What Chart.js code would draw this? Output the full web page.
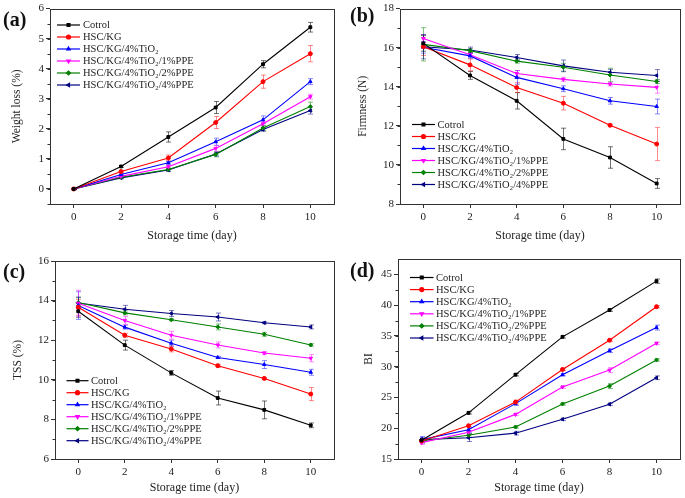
<!DOCTYPE html>
<html>
<head>
<meta charset="utf-8">
<script src="https://cdn.jsdelivr.net/npm/chart.js@4.4.0/dist/chart.umd.min.js"></script>
<style>
  body { margin: 0; background: #fff; }
  #wrap { position: relative; width: 685px; height: 498px; }
  canvas { position: absolute; }
</style>
</head>
<body>
<div id="wrap">
  <canvas id="pa" width="342" height="248" style="left:0;top:0"></canvas>
  <canvas id="pb" width="343" height="248" style="left:342px;top:0"></canvas>
  <canvas id="pc" width="342" height="250" style="left:0;top:248px"></canvas>
  <canvas id="pd" width="343" height="250" style="left:342px;top:248px"></canvas>
</div>
<script>
// storage days and treatments
var days = [0, 2, 4, 6, 8, 10];
var groups = ['Cotrol', 'HSC/KG', 'HSC/KG/4%TiO₂', 'HSC/KG/4%TiO₂/1%PPE', 'HSC/KG/4%TiO₂/2%PPE', 'HSC/KG/4%TiO₂/4%PPE'];

// (a) weight loss (%)
var weightLoss = [
  [0, 0.75, 1.73, 2.71, 4.15, 5.38],
  [0, 0.58, 1.03, 2.21, 3.57, 4.50],
  [0, 0.48, 0.87, 1.57, 2.30, 3.57],
  [0, 0.42, 0.74, 1.35, 2.17, 3.07],
  [0, 0.39, 0.65, 1.15, 2.03, 2.74],
  [0, 0.37, 0.63, 1.16, 1.98, 2.61]
];
var weightLossErr = [
  [0.02, 0.03, 0.17, 0.20, 0.12, 0.16],
  [0.02, 0.04, 0.10, 0.20, 0.22, 0.27],
  [0.02, 0.03, 0.05, 0.12, 0.13, 0.10],
  [0.02, 0.03, 0.05, 0.10, 0.08, 0.08],
  [0.02, 0.03, 0.05, 0.08, 0.08, 0.15],
  [0.02, 0.03, 0.05, 0.06, 0.06, 0.12]
];

// (b) firmness (N)
var firmness = [
  [16.22, 14.58, 13.28, 11.33, 10.38, 9.05],
  [16.05, 15.12, 13.96, 13.16, 12.03, 11.07],
  [16.02, 15.58, 14.48, 13.90, 13.28, 12.99],
  [16.47, 15.64, 14.68, 14.38, 14.14, 13.97],
  [16.17, 15.85, 15.31, 15.00, 14.60, 14.27],
  [16.05, 15.88, 15.50, 15.07, 14.74, 14.58]
];
var firmnessErr = [
  [0.40, 0.20, 0.42, 0.55, 0.55, 0.25],
  [0.45, 0.30, 0.25, 0.35, 0.05, 0.85],
  [0.30, 0.12, 0.35, 0.15, 0.17, 0.38],
  [0.20, 0.10, 0.15, 0.10, 0.10, 0.30],
  [0.85, 0.10, 0.10, 0.20, 0.35, 0.10],
  [0.62, 0.15, 0.15, 0.30, 0.15, 0.30]
];

// (c) TSS (%)
var tss = [
  [13.46, 11.75, 10.35, 9.08, 8.48, 7.70],
  [13.66, 12.25, 11.56, 10.71, 10.07, 9.28],
  [13.75, 12.66, 11.85, 11.13, 10.77, 10.38],
  [13.87, 13.00, 12.25, 11.76, 11.35, 11.09],
  [13.90, 13.38, 13.03, 12.67, 12.30, 11.76],
  [13.88, 13.56, 13.35, 13.17, 12.88, 12.67]
];
var tssErr = [
  [0.30, 0.25, 0.12, 0.35, 0.45, 0.12],
  [0.40, 0.10, 0.15, 0.08, 0.05, 0.33],
  [0.70, 0.10, 0.15, 0.05, 0.20, 0.15],
  [0.65, 0.20, 0.20, 0.15, 0.08, 0.18],
  [0.25, 0.10, 0.05, 0.15, 0.10, 0.07],
  [0.30, 0.20, 0.15, 0.20, 0.05, 0.10]
];

// (d) browning index
var bi = [
  [18.04, 22.50, 28.70, 34.85, 39.20, 43.90],
  [17.93, 20.40, 24.25, 29.55, 34.30, 39.75],
  [18.15, 19.75, 24.00, 28.70, 32.60, 36.35],
  [17.66, 19.35, 22.25, 26.70, 29.45, 33.80],
  [17.93, 18.85, 20.20, 23.95, 26.85, 31.10],
  [18.15, 18.45, 19.20, 21.45, 23.90, 28.20]
];
var biErr = [
  [0.30, 0.20, 0.20, 0.20, 0.20, 0.35],
  [0.30, 0.20, 0.30, 0.20, 0.20, 0.20],
  [0.50, 0.40, 0.30, 0.20, 0.30, 0.40],
  [0.30, 0.30, 0.20, 0.20, 0.40, 0.20],
  [0.30, 0.30, 0.20, 0.20, 0.40, 0.20],
  [0.30, 0.60, 0.30, 0.20, 0.20, 0.30]
];

var colors = ['#000000', '#ff0000', '#0000ff', '#ff00ff', '#008000', '#000080'];
var errColors = ['rgba(0,0,0,0.55)', 'rgba(255,0,0,0.45)', 'rgba(0,0,255,0.45)', 'rgba(255,0,255,0.45)', 'rgba(0,128,0,0.5)', 'rgba(0,0,128,0.5)'];
var markers = ['rect', 'circle', 'triangle', 'triangle', 'rectRot', 'triangle'];
var rotations = [0, 0, 0, 180, 0, -90];

var serif = "'Liberation Serif', 'Times New Roman', serif";
Chart.defaults.font.family = serif;
Chart.defaults.color = '#222';

function drawMarker(ctx, i, x, y) {
  ctx.save();
  ctx.fillStyle = colors[i];
  ctx.strokeStyle = colors[i];
  Chart.helpers.drawPoint(ctx, {pointStyle: markers[i], rotation: rotations[i], radius: 2, borderWidth: 1}, x, y);
  ctx.restore();
}

var extras = {
  id: 'extras',
  beforeDatasetsDraw: function(chart, args, o) {
    var ctx = chart.ctx, xs = chart.scales.x, ys = chart.scales.y;
    ctx.save();
    ctx.lineWidth = 1;
    for (var i = 0; i < o.values.length; i++) {
      ctx.strokeStyle = errColors[i];
      for (var j = 0; j < days.length; j++) {
        var x = Math.round(xs.getPixelForValue(days[j])) + 0.5;
        var y1 = ys.getPixelForValue(o.values[i][j] + o.errors[i][j]);
        var y2 = ys.getPixelForValue(o.values[i][j] - o.errors[i][j]);
        ctx.beginPath();
        ctx.moveTo(x, y1); ctx.lineTo(x, y2);
        ctx.moveTo(x - 2.5, y1); ctx.lineTo(x + 2.5, y1);
        ctx.moveTo(x - 2.5, y2); ctx.lineTo(x + 2.5, y2);
        ctx.stroke();
      }
    }
    ctx.restore();
  },
  afterDraw: function(chart, args, o) {
    var ctx = chart.ctx, a = chart.chartArea, ys = chart.scales.y;
    ctx.save();
    // frame
    ctx.strokeStyle = '#333';
    ctx.lineWidth = 1;
    ctx.strokeRect(Math.round(a.left) + 0.5, Math.round(a.top) + 0.5, Math.round(a.right - a.left), Math.round(a.bottom - a.top));
    // minor ticks on y
    ctx.beginPath();
    for (var v = o.minorStart; v < ys.max; v += o.minorStep) {
      var py = Math.round(ys.getPixelForValue(v)) + 0.5;
      ctx.moveTo(a.left, py); ctx.lineTo(a.left - 2.5, py);
    }
    ctx.stroke();
    // legend
    var L = o.legend;
    ctx.font = '10.5px ' + serif;
    ctx.textBaseline = 'middle';
    ctx.textAlign = 'left';
    for (var i = 0; i < groups.length; i++) {
      var y = L.y + i * L.dy;
      ctx.strokeStyle = colors[i];
      ctx.lineWidth = 1.2;
      ctx.beginPath();
      ctx.moveTo(L.x0, y); ctx.lineTo(L.x1, y);
      ctx.stroke();
      drawMarker(ctx, i, (L.x0 + L.x1) / 2, y);
      ctx.fillStyle = '#222';
      ctx.fillText(groups[i], L.tx, y + 0.5);
    }
    // panel label
    ctx.font = 'bold 20px ' + serif;
    ctx.fillStyle = '#111';
    ctx.fillText(o.label, o.labelX, o.labelY);
    ctx.restore();
  }
};

function makePanel(id, p) {
  var canvas = document.getElementById(id);
  var W = canvas.width, H = canvas.height;
  var datasets = groups.map(function(g, i) {
    return {
      label: g,
      data: days.map(function(d, j) { return {x: d, y: p.values[i][j]}; }),
      borderColor: colors[i],
      backgroundColor: colors[i],
      borderWidth: 1.1,
      pointStyle: markers[i],
      pointRotation: rotations[i],
      pointRadius: 2,
      pointBorderWidth: 1,
      tension: 0
    };
  });
  return new Chart(canvas, {
    type: 'line',
    data: {datasets: datasets},
    plugins: [extras],
    options: {
      responsive: false,
      animation: false,
      devicePixelRatio: 1,
      layout: {padding: {left: 0, top: p.area.top, right: W - p.area.right, bottom: 0}},
      plugins: {
        legend: {display: false},
        tooltip: {enabled: false},
        extras: {
          values: p.values, errors: p.errors, legend: p.legend,
          label: p.label, labelX: p.labelX, labelY: p.labelY,
          minorStart: p.yMin + (p.yMin % p.yStep === 0 ? p.yStep / 2 : 0), minorStep: p.yStep / 2
        }
      },
      scales: {
        x: {
          type: 'linear', min: -1, max: 11,
          afterFit: function(s) { s.height = H - p.area.bottom; },
          afterBuildTicks: function(s) { s.ticks = days.map(function(d) { return {value: d}; }); },
          border: {display: false},
          grid: {drawOnChartArea: false, drawTicks: true, tickLength: 4, tickColor: '#333'},
          ticks: {padding: 3, font: {size: 11}, color: '#222', maxRotation: 0},
          title: {display: true, text: 'Storage time (day)', font: {size: 12}, color: '#222', padding: {top: 0, bottom: p.xTitlePad}}
        },
        y: {
          type: 'linear', min: p.yMin, max: p.yMax,
          afterFit: function(s) { s.width = p.area.left; },
          border: {display: false},
          grid: {drawOnChartArea: false, drawTicks: true, tickLength: 4, tickColor: '#333'},
          ticks: {stepSize: p.yStep, includeBounds: false, padding: 2, font: {size: 11}, color: '#222'},
          title: {display: true, text: p.yTitle, font: {size: 11.5}, color: '#222', padding: {top: p.yTitlePad, bottom: 0}}
        }
      }
    }
  });
}

makePanel('pa', {
  values: weightLoss, errors: weightLossErr, yTitle: 'Weight loss (%)',
  yMin: -0.5, yMax: 6, yStep: 1,
  area: {left: 50, right: 334, top: 7, bottom: 204},
  yTitlePad: 10, xTitlePad: 5,
  legend: {x0: 57, x1: 80, tx: 83, y: 25, dy: 12},
  label: '(a)', labelX: 3, labelY: 21
});
makePanel('pb', {
  values: firmness, errors: firmnessErr, yTitle: 'Firmness (N)',
  yMin: 8, yMax: 18, yStep: 2,
  area: {left: 58, right: 340, top: 7, bottom: 204},
  yTitlePad: 14.4, xTitlePad: 5,
  legend: {x0: 70, x1: 93, tx: 95.5, y: 124.5, dy: 12},
  label: '(b)', labelX: 8, labelY: 16.5
});
makePanel('pc', {
  values: tss, errors: tssErr, yTitle: 'TSS (%)',
  yMin: 6, yMax: 16, yStep: 2,
  area: {left: 55, right: 334, top: 13, bottom: 211},
  yTitlePad: 11.4, xTitlePad: 3,
  legend: {x0: 66.5, x1: 88.5, tx: 91, y: 132.7, dy: 12},
  label: '(c)', labelX: 3, labelY: 25
});
makePanel('pd', {
  values: bi, errors: biErr, yTitle: 'BI',
  yMin: 15, yMax: 47.5, yStep: 5,
  area: {left: 56, right: 340, top: 11, bottom: 211},
  yTitlePad: 20.4, xTitlePad: 3,
  legend: {x0: 68, x1: 91.5, tx: 94, y: 29.5, dy: 12.1},
  label: '(d)', labelX: 8, labelY: 24
});
</script>
</body>
</html>
